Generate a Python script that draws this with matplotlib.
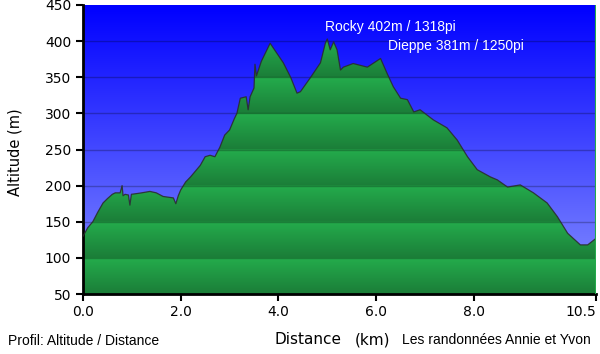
import numpy as np
import matplotlib.pyplot as plt
from matplotlib.path import Path
from matplotlib.patches import PathPatch

# profile (km, m)
dist = [0.0, 0.1, 0.2, 0.3, 0.41, 0.5, 0.6, 0.66, 0.76, 0.8, 0.82, 0.86, 0.93, 0.96, 0.99,
        1.1, 1.2, 1.37, 1.5, 1.64, 1.85, 1.9, 1.95, 2.0, 2.1, 2.2, 2.4, 2.5, 2.6, 2.7,
        2.8, 2.9, 3.0, 3.1, 3.15, 3.22, 3.34, 3.38, 3.42, 3.5, 3.52, 3.55, 3.65, 3.83,
        3.95, 4.1, 4.25, 4.38, 4.45, 4.65, 4.86, 4.96, 5.0, 5.06, 5.13, 5.2, 5.27, 5.33,
        5.53, 5.82, 6.09, 6.22, 6.35, 6.5, 6.64, 6.77, 6.9, 7.17, 7.45, 7.66, 7.87,
        8.07, 8.34, 8.48, 8.69, 8.95, 9.22, 9.5, 9.71, 9.92, 10.18, 10.33, 10.5]
alt = [130, 142, 150, 163, 176, 182, 188, 190, 190, 200, 186, 188, 187, 173, 188,
       189, 190, 192, 190, 185, 183, 175, 186, 194, 205, 212, 228, 240, 242, 240,
       253, 270, 277, 293, 300, 321, 323, 305, 323, 335, 368, 352, 372, 397,
       385, 370, 350, 328, 330, 349, 370, 397, 403, 388, 399, 388, 360, 364,
       369, 364, 376, 356, 337, 321, 319, 302, 305, 291, 280, 263, 240,
       222, 212, 208, 198, 201, 190, 176, 157, 134, 118, 118, 127]

yticks = [50, 100, 150, 200, 250, 300, 350, 400, 450]
xticks = [0.0, 2.0, 4.0, 6.0, 8.0, 10.5]
xticklabels = ['0.0', '2.0', '4.0', '6.0', '8.0', '10.5']

summits = [('Rocky 402m / 1318pi', 4.96, 419), ('Dieppe 381m / 1250pi', 6.25, 393)]

fig = plt.figure(figsize=(6, 3.54), dpi=100)
ax = fig.add_axes([83 / 600, 60 / 354, 513 / 600, 289 / 354])
x0, x1, y0, y1 = 0, 10.5, 50, 450

# sky gradient
t = np.linspace(0, 1, 256)[:, None]
top = np.array([0, 0, 255]) / 255
bot = np.array([135, 145, 255]) / 255
sky = (top + (bot - top) * t)[:, None, :]
ax.imshow(sky, extent=[x0, x1, y0, y1], aspect='auto', origin='upper', zorder=0)

# green banded gradient, clipped to the profile
h = np.linspace(y1, y0, 800)
frac = ((h - 50) % 50) / 50
light = np.array([36, 172, 76]) / 255
dark = np.array([27, 125, 56]) / 255
green = (dark + (light - dark) * frac[:, None])[:, None, :]
img = ax.imshow(green, extent=[x0, x1, y0, y1], aspect='auto', origin='upper', zorder=1)
verts = [(dist[0], y0)] + list(zip(dist, alt)) + [(dist[-1], y0), (dist[0], y0)]
clip = PathPatch(Path(verts), transform=ax.transData, facecolor='none', edgecolor='none')
ax.add_patch(clip)
img.set_clip_path(clip)
ax.plot(dist, alt, color='#2a2a2a', lw=0.9, alpha=0.85, zorder=3)
ax.axvline(x1, color='#22aa4a', lw=1.5, zorder=3)

for y in yticks[1:-1]:
    ax.axhline(y, color='black', lw=1, alpha=0.25, zorder=2)

for label, x, y in summits:
    ax.text(x, y, label, color='white', fontsize=10, family='Liberation Sans',
            va='center', ha='left', zorder=4)

ax.set_xlim(x0, x1)
ax.set_ylim(y0, y1)
ax.set_xticks(xticks)
ax.set_xticklabels(xticklabels)
ax.get_xticklabels()[-1].set_ha('right')
ax.set_yticks(yticks)
ax.tick_params(axis='both', labelsize=10, width=1.5, length=5, direction='out')
ax.tick_params(axis='x', pad=3)
for s in ['top', 'right']:
    ax.spines[s].set_visible(False)
for s in ['left', 'bottom']:
    ax.spines[s].set_linewidth(2)

fig.text(15 / 600, 1 - 152 / 354, 'Altitude (m)', rotation=90, fontsize=10.5,
         ha='center', va='center')
fig.text(275 / 600, 1 - 340 / 354, 'Distance', fontsize=11, ha='left', va='center')
fig.text(355 / 600, 1 - 340 / 354, '(km)', fontsize=11, ha='left', va='center')
fig.text(8 / 600, 1 - 341 / 354, 'Profil: Altitude / Distance', fontsize=10,
         family='Liberation Sans', ha='left', va='center')
fig.text(402 / 600, 1 - 340 / 354, 'Les randonnées Annie et Yvon', fontsize=10,
         family='Liberation Sans', ha='left', va='center')

fig.savefig('out.png', dpi=100)
